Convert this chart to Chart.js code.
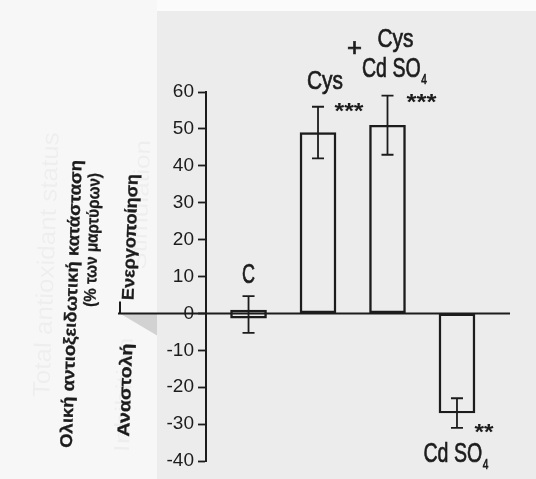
<!DOCTYPE html>
<html>
<head>
<meta charset="utf-8">
<script src="https://cdn.jsdelivr.net/npm/chart.js@4.4.1/dist/chart.umd.min.js"></script>
<style>
  html, body { margin: 0; padding: 0; background: #ffffff; }
  #wrap { width: 536px; height: 479px; }
</style>
</head>
<body>
<div id="wrap"><canvas id="tasChart" width="536" height="479"></canvas></div>
<script>
// groups, bar extents, means and SEM (% of control)
const categories = ['C', 'Cys', 'Cys + Cd SO4', 'Cd SO4'];
const positions = [1, 2, 3, 4];
const boxLow = [-1.3, 0, 0, -27];
const boxHigh = [0.9, 49, 51, 0];
const means = [-0.3, 49, 51, -27];
const sem = [5, 7, 8, 4];
const stars = ['', '***', '***', '**'];
const yTicks = [60, 50, 40, 30, 20, 10, 0, -10, -20, -30, -40];

const INK = '#1c1c1c';
const SANS = "'Liberation Sans', Arial, sans-serif";

// text squeezed to a given width (the scan uses a condensed face)
function fitText(ctx, text, cx, base, size, width, weight, angle, stroke) {
  ctx.save();
  ctx.font = `${weight || 'normal'} ${size}px ${SANS}`;
  const w = ctx.measureText(text).width;
  ctx.translate(cx, base);
  if (angle) ctx.rotate(angle);
  ctx.scale(width / w, 1);
  ctx.textAlign = 'center';
  ctx.fillText(text, 0, 0);
  if (stroke) {
    ctx.lineWidth = stroke;
    ctx.strokeText(text, 0, 0);
  }
  ctx.restore();
}

// "Cd SO" + subscript 4
function cdso4(ctx, cx, base, size, width) {
  ctx.save();
  ctx.lineWidth = 0.7;
  ctx.font = `normal ${size}px ${SANS}`;
  const w1 = ctx.measureText('Cd SO').width;
  ctx.font = `normal ${Math.round(size * 0.5)}px ${SANS}`;
  const w2 = ctx.measureText('4').width;
  const sx = width / (w1 + w2 + 1);
  ctx.translate(cx - width / 2, base);
  ctx.scale(sx, 1);
  ctx.textAlign = 'left';
  ctx.font = `normal ${size}px ${SANS}`;
  ctx.fillText('Cd SO', 0, 0);
  ctx.strokeText('Cd SO', 0, 0);
  ctx.font = `normal ${Math.round(size * 0.5)}px ${SANS}`;
  ctx.fillText('4', w1 + 1, size * 0.26);
  ctx.strokeText('4', w1 + 1, size * 0.26);
  ctx.restore();
}

const paperPlugin = {
  id: 'paper',
  beforeDraw(chart) {
    const { ctx, width, height } = chart;
    const zy = chart.scales.y.getPixelForValue(0);
    ctx.save();
    ctx.fillStyle = '#ececec';
    ctx.fillRect(0, 0, width, height);
    ctx.fillStyle = '#f7f7f7';
    ctx.fillRect(0, 0, 157, height);
    ctx.fillStyle = '#fbfbfb';
    ctx.fillRect(157, 0, width - 157, 11);
    // folded corner under the zero line
    ctx.fillStyle = '#d2d2d2';
    ctx.beginPath();
    ctx.moveTo(120, zy);
    ctx.lineTo(157, zy);
    ctx.lineTo(157, zy + 22);
    ctx.closePath();
    ctx.fill();
    // faint show-through from the other side of the page
    ctx.fillStyle = 'rgba(0,0,0,0.035)';
    fitText(ctx, 'Total antioxidant status', 54, 265, 24, 265, 'normal', -Math.PI / 2 + 0.035);
    fitText(ctx, 'Inhibition', 131, 395, 22, 115, 'normal', -Math.PI / 2 + 0.035);
    fitText(ctx, 'Stimulation', 148, 205, 22, 130, 'normal', -Math.PI / 2 + 0.035);
    ctx.restore();
  }
};

const annotatePlugin = {
  id: 'annotate',
  afterDatasetsDraw(chart) {
    const { ctx, chartArea } = chart;
    const xs = chart.scales.x, ys = chart.scales.y;
    const zy = ys.getPixelForValue(0);
    ctx.save();
    ctx.strokeStyle = INK;
    ctx.fillStyle = INK;

    // zero line running out past the axis
    ctx.lineWidth = 2;
    ctx.beginPath();
    ctx.moveTo(118, zy);
    ctx.lineTo(chartArea.right, zy);
    ctx.moveTo(120, zy);
    ctx.lineTo(120, zy - 12);
    ctx.stroke();

    // error bars
    ctx.lineWidth = 1.8;
    positions.forEach((p, i) => {
      const x = xs.getPixelForValue(p);
      const top = ys.getPixelForValue(means[i] + sem[i]);
      const bot = ys.getPixelForValue(means[i] - sem[i]);
      ctx.beginPath();
      ctx.moveTo(x, top); ctx.lineTo(x, bot);
      ctx.moveTo(x - 6, top); ctx.lineTo(x + 6, top);
      ctx.moveTo(x - 6, bot); ctx.lineTo(x + 6, bot);
      ctx.stroke();
    });

    // group labels
    const px = i => xs.getPixelForValue(positions[i]);
    const hi = i => ys.getPixelForValue(means[i] + sem[i]);
    const lo = i => ys.getPixelForValue(means[i] - sem[i]);
    fitText(ctx, 'C', px(0), hi(0) - 13, 27, 13, 'normal', 0, 0.7);
    fitText(ctx, 'Cys', px(1) + 7, hi(1) - 17.5, 26, 36, 'normal', 0, 0.7);
    fitText(ctx, 'Cys', px(2) + 8, hi(2) - 49, 26, 36, 'normal', 0, 0.7);
    fitText(ctx, '+', px(2) - 33, hi(2) - 40, 26, 15, 'normal', 0, 0.7);
    cdso4(ctx, px(2) + 7, hi(2) - 18.5, 27, 65);
    cdso4(ctx, px(3) - 1, lo(3) + 34, 27, 65);

    // significance marks
    ctx.textBaseline = 'middle';
    fitText(ctx, stars[1], px(1) + 31, hi(1) + 5, 22, 29, 'bold');
    fitText(ctx, stars[2], px(2) + 34, hi(2) + 7, 22, 30, 'bold');
    fitText(ctx, stars[3], px(3) + 27, lo(3) + 5, 22, 19, 'bold');

    // Greek axis titles (slightly skewed like the scan)
    const rot = -Math.PI / 2 + 0.035;
    ctx.textBaseline = 'middle';
    fitText(ctx, 'Ολική αντιοξειδωτική κατάσταση', 72, 304, 17, 288, 'bold', rot, 0.3);
    fitText(ctx, '(% των μαρτύρων)', 93, 240, 17, 134, 'bold', rot, 0.3);
    fitText(ctx, 'Ενεργοποίηση', 131, 237, 17, 126, 'bold', rot, 0.3);
    fitText(ctx, 'Αναστολή', 126, 390, 17, 93, 'bold', rot, 0.3);
    ctx.restore();
  }
};

new Chart(document.getElementById('tasChart'), {
  type: 'bar',
  data: {
    datasets: [{
      label: 'Total antioxidant status',
      data: positions.map((p, i) => ({ x: p, y: [boxLow[i], boxHigh[i]] })),
      backgroundColor: 'rgba(0,0,0,0)',
      borderColor: INK,
      borderWidth: 1.8,
      borderSkipped: false,
      barThickness: 36
    }]
  },
  options: {
    responsive: false,
    animation: false,
    devicePixelRatio: 1,
    layout: { padding: { top: 92, bottom: 18, left: 0, right: 26 } },
    plugins: {
      legend: { display: false },
      tooltip: { enabled: false }
    },
    scales: {
      x: {
        type: 'linear',
        min: 0.388,
        max: 4.763,
        offset: false,
        display: false
      },
      y: {
        min: -40,
        max: 60,
        afterFit: s => { s.width = 206; s.paddingTop = 0; s.paddingBottom = 0; },
        afterBuildTicks: s => { s.ticks = yTicks.map(v => ({ value: v })); },
        ticks: {
          color: INK,
          padding: 4,
          font: { family: SANS, size: 19 }
        },
        grid: {
          drawOnChartArea: false,
          drawTicks: true,
          tickLength: 8,
          tickColor: INK,
          tickWidth: 1.8
        },
        border: { display: true, color: INK, width: 2 }
      }
    }
  },
  plugins: [paperPlugin, annotatePlugin]
});
</script>
</body>
</html>
